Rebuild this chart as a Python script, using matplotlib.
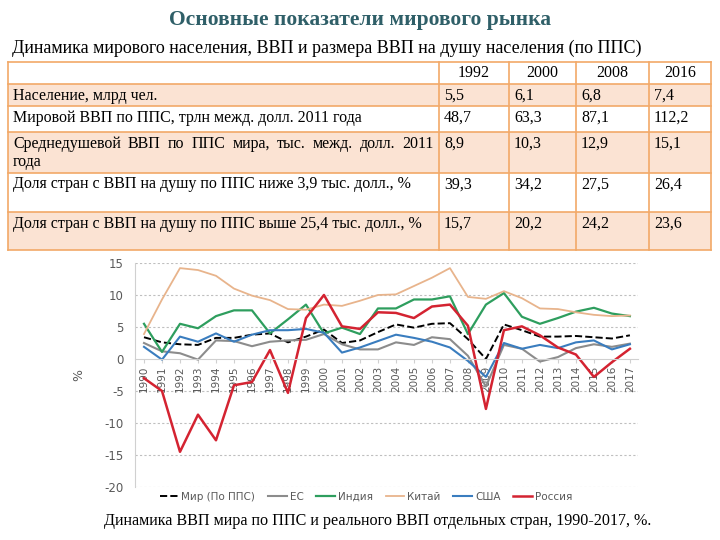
import numpy as np
import matplotlib
matplotlib.use("Agg")
import matplotlib.pyplot as plt
from matplotlib.patches import Rectangle
from matplotlib.lines import Line2D

plt.rcParams["axes.unicode_minus"] = False

# ---- data ----
title = "Основные показатели мирового рынка"
subtitle = "Динамика мирового населения, ВВП и размера ВВП на душу населения (по ППС)"
caption = "Динамика ВВП мира по ППС и реального ВВП отдельных стран, 1990-2017, %."

tab_years = ["1992", "2000", "2008", "2016"]
tab_rows = [
    "Население, млрд чел.",
    "Мировой ВВП по ППС, трлн межд. долл. 2011 года",
    "Среднедушевой ВВП по ППС мира, тыс. межд. долл. 2011\nгода",
    "Доля стран с ВВП на душу по ППС ниже 3,9 тыс. долл., %",
    "Доля стран с ВВП на душу по ППС выше 25,4 тыс. долл., %",
]
tab_vals = [
    ["5,5", "6,1", "6,8", "7,4"],
    ["48,7", "63,3", "87,1", "112,2"],
    ["8,9", "10,3", "12,9", "15,1"],
    ["39,3", "34,2", "27,5", "26,4"],
    ["15,7", "20,2", "24,2", "23,6"],
]

years = list(range(1990, 2018))
world = [3.4, 2.6, 2.3, 2.2, 3.3, 3.3, 3.8, 4.0, 2.6, 3.5, 4.6, 2.5, 2.9, 4.2, 5.4, 4.9,
         5.5, 5.6, 3.1, 0.0, 5.4, 4.5, 3.5, 3.5, 3.6, 3.4, 3.2, 3.7]
eu = [2.5, 1.2, 0.9, -0.1, 2.9, 2.8, 2.0, 2.7, 2.9, 3.0, 3.9, 2.3, 1.5, 1.5, 2.6, 2.2,
      3.4, 3.1, 0.5, -4.3, 2.2, 1.6, -0.4, 0.3, 1.7, 2.3, 1.9, 2.4]
india = [5.5, 1.1, 5.5, 4.8, 6.7, 7.6, 7.6, 4.0, 6.2, 8.5, 4.0, 4.9, 3.9, 7.9, 7.9, 9.3,
         9.3, 9.8, 3.9, 8.5, 10.3, 6.6, 5.5, 6.4, 7.4, 8.0, 7.1, 6.7]
china = [3.9, 9.3, 14.2, 13.9, 13.0, 11.0, 9.9, 9.2, 7.8, 7.7, 8.5, 8.3, 9.1, 10.0, 10.1, 11.4,
         12.7, 14.2, 9.7, 9.4, 10.6, 9.5, 7.9, 7.8, 7.3, 6.9, 6.7, 6.8]
usa = [1.9, -0.1, 3.5, 2.7, 4.0, 2.7, 3.8, 4.5, 4.5, 4.7, 4.1, 1.0, 1.8, 2.8, 3.8, 3.3,
       2.7, 1.8, -0.3, -2.8, 2.5, 1.6, 2.2, 1.7, 2.6, 2.9, 1.5, 2.3]
russia = [-3.0, -5.0, -14.5, -8.7, -12.7, -4.1, -3.6, 1.4, -5.3, 6.4, 10.0, 5.1, 4.7, 7.3, 7.2, 6.4,
          8.2, 8.5, 5.2, -7.8, 4.5, 5.1, 3.7, 1.8, 0.7, -2.8, -0.5, 1.6]

serif = "Liberation Serif"
grey_txt = "#595959"
tab_fs = 11.5

fig = plt.figure(figsize=(7.2, 5.4), dpi=100)
renderer = fig.canvas.get_renderer()

# ---- background layer in pixel coordinates (titles + table) ----
bg = fig.add_axes([0, 0, 1, 1])
bg.set_xlim(0, 720)
bg.set_ylim(540, 0)
bg.axis("off")

bg.text(360, 20, title, ha="center", va="center", fontsize=15.5, fontweight="bold",
        color="#2f5f68", family=serif)
bg.text(12, 48, subtitle, ha="left", va="center", fontsize=13, color="black", family=serif)

col_x = [8, 439, 509, 576, 649, 711]
row_y = [62, 84, 106, 132, 173, 212, 250]
fill = "#fbe3d3"
edge = "#f2a968"
for r in range(len(row_y) - 1):
    y0, y1 = row_y[r], row_y[r + 1]
    fc = fill if r % 2 == 1 else "white"
    bg.add_patch(Rectangle((col_x[0], y0), col_x[-1] - col_x[0], y1 - y0,
                           facecolor=fc, edgecolor="none", zorder=1))
for y in row_y:
    bg.plot([col_x[0], col_x[-1]], [y, y], color=edge, lw=1.2, zorder=2)
for x in col_x:
    bg.plot([x, x], [row_y[0], row_y[-1]], color=edge, lw=1.2, zorder=2)

for j, yr in enumerate(tab_years):
    bg.text((col_x[j + 1] + col_x[j + 2]) / 2, 73, yr,
            ha="center", va="center", fontsize=tab_fs, family=serif, zorder=3)


def justified(x0, x1, y, line):
    # spread words of one line across x0..x1 like a justified paragraph
    words = line.split()
    widths = []
    for w in words:
        t = bg.text(0, 0, w, fontsize=tab_fs, family=serif)
        widths.append(t.get_window_extent(renderer).width)
        t.remove()
    gap = (x1 - x0 - sum(widths)) / (len(words) - 1)
    x = x0
    for w, wd in zip(words, widths):
        bg.text(x, y, w, ha="left", va="center", fontsize=tab_fs, family=serif, zorder=3)
        x += wd + gap


for i, lab in enumerate(tab_rows):
    yc = row_y[i + 1] + 11.5
    lines = lab.split("\n")
    if len(lines) > 1:
        justified(col_x[0] + 5, col_x[1] - 5, yc, lines[0])
        bg.text(col_x[0] + 5, yc + 19, lines[1], ha="left", va="center", fontsize=tab_fs,
                family=serif, zorder=3)
    else:
        bg.text(col_x[0] + 5, yc, lab, ha="left", va="center", fontsize=tab_fs,
                family=serif, zorder=3)
    for j, v in enumerate(tab_vals[i]):
        bg.text(col_x[j + 1] + 5, yc, v, ha="left", va="center", fontsize=tab_fs,
                family=serif, zorder=3)

bg.text(378, 521, caption, ha="center", va="center", fontsize=11.6, family=serif)

# ---- line chart ----
ax = fig.add_axes([135 / 720, 1 - 487 / 540, 503 / 720, 224 / 540])
series = [
    ("Мир (По ППС)", world, "black", "--", 1.4),
    ("ЕС", eu, "#8c8c8c", "-", 1.5),
    ("Индия", india, "#2e9e5e", "-", 1.6),
    ("Китай", china, "#e8b48c", "-", 1.3),
    ("США", usa, "#3a7dbf", "-", 1.5),
    ("Россия", russia, "#d42331", "-", 1.8),
]
for name, vals, c, ls, lw in series:
    ax.plot(years, vals, color=c, ls=ls, lw=lw, label=name)

ax.set_xlim(1989.5, 2017.45)
ax.set_ylim(-20, 15)
ax.set_yticks([15, 10, 5, 0, -5, -10, -15, -20])
for v in [15, 10, 5, -5, -10, -15, -20]:
    ax.axhline(v, color="#bfbfbf", lw=0.8, ls=(0, (2, 2)), zorder=0)
ax.spines["top"].set_visible(False)
ax.spines["right"].set_visible(False)
ax.spines["left"].set_color("#d0d0d0")
ax.spines["bottom"].set_position(("data", 0))
ax.spines["bottom"].set_color("#d0d0d0")
ax.set_xticks(years)
ax.set_xticklabels([str(y) for y in years], rotation=90, fontsize=7.5, color=grey_txt)
ax.tick_params(axis="x", length=3, color="#d0d0d0", pad=2)
ax.tick_params(axis="y", length=0, labelsize=8.5, labelcolor=grey_txt, pad=8)
ax.set_ylabel("%", fontsize=9, color=grey_txt, labelpad=14)
ax.patch.set_alpha(0)

handles = [Line2D([0], [0], color=c, ls=ls, lw=lw) for _, _, c, ls, lw in series]
fig.legend(handles, [s[0] for s in series], loc="center", bbox_to_anchor=(366 / 720, 1 - 497 / 540),
           ncol=6, frameon=False, fontsize=7.5, labelcolor=grey_txt, handlelength=1.8,
           columnspacing=1.2, handletextpad=0.3)

fig.savefig("out.png", dpi=100)
